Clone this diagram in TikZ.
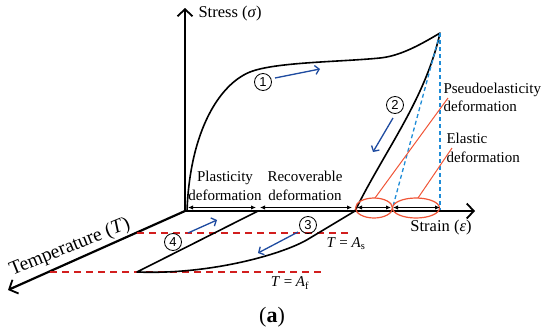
\documentclass[tikz,border=0pt]{standalone}
\usepackage{fontspec}
\setmainfont{Liberation Serif}
\setsansfont{Liberation Sans}
\usepackage{tikz}
\usepackage{xcolor}
\usetikzlibrary{arrows.meta, shapes.geometric}
\definecolor{moveblue}{RGB}{30,75,160}
\definecolor{guideblue}{RGB}{30,140,215}
\definecolor{limitred}{RGB}{210,30,30}
\definecolor{markorange}{RGB}{240,85,55}

\begin{document}
\begin{tikzpicture}[
    x=1pt, y=-1pt,
    font=\fontsize{15}{18.5}\selectfont,
    axis/.style={line width=2.2pt, -{Straight Barb[length=7pt, width=15pt, line width=1.8pt]}},
    curve/.style={line width=1.6pt, line join=round},
    dim/.style={line width=1pt, {Latex[length=5pt, width=4.5pt]}-{Latex[length=5pt, width=4.5pt]}},
    move/.style={moveblue, line width=1.3pt, -{Straight Barb[length=4pt, width=9pt]}},
    tline/.style={limitred, line width=1.5pt, dash pattern=on 7pt off 5pt},
    guide/.style={guideblue, line width=1.3pt, dash pattern=on 4pt off 3pt},
    ring/.style={ellipse, draw=markorange, line width=1.2pt, minimum height=20pt, inner sep=0pt},
    callout/.style={markorange, line width=1pt},
    num/.style={circle, draw, line width=0.8pt, minimum size=17pt, inner sep=0pt,
                font=\sffamily\fontsize{13}{13}\selectfont},
    axlab/.style={font=\fontsize{16.5}{20}\selectfont},
    lab/.style={align=left, anchor=west},
  ]
  \useasboundingbox (0,0) rectangle (550,335);
  % key points
  \coordinate (O)    at (185,211);
  \coordinate (peak) at (440,33);
  \coordinate (knee) at (355,211);
  \coordinate (lo)   at (137,272);
  \coordinate (up)   at (258,211);
  % axes
  \draw[axis] (O) -- (185,8);
  \draw[axis] (O) -- (475,211);
  \draw[axis] (O) -- (8,290);
  \node[axlab, anchor=west] (stress) at (195,14) {Stress (\textit{σ})};
  \node[axlab] (strain) at (441,228) {Strain (\textit{ε})};
  \node[font=\fontsize{19.5}{23}\selectfont, rotate=22, anchor=base west]
    (temp) at (9,277) {Temperature (\textit{T})};
  % transformation temperatures
  \draw[tline] (137,233) -- (352,233);
  \draw[tline] (50,272) -- (325,272);
  \node (As) at (346,244) {\textit{T} = \textit{A}\textsubscript{s}};
  \node (Af) at (290,283) {\textit{T} = \textit{A}\textsubscript{f}};
  % loading and unloading path
  \draw[curve] (187,211) .. controls (190,130) and (220,84) .. (250,72)
    .. controls (275,62) and (340,62) .. (380,58)
    .. controls (400,56) and (420,45) .. (peak)
    .. controls (425,100) and (385,150) .. (knee)
    -- (310,238) .. controls (285,254) and (210,275) .. (lo) -- (up);
  % elastic part
  \draw[guide] (peak) -- (440,210);
  \draw[guide] (peak) -- (392,210);
  \node[ring, minimum width=37pt] (e1) at (374,208) {};
  \node[ring, minimum width=47pt] (e2) at (416,208) {};
  % strain parts
  \draw[dim] (188,207.5) -- (256,207.5);
  \draw[dim] (260,207.5) -- (352,207.5);
  \draw[dim] (357,207.5) -- (391,207.5);
  \draw[dim] (393,207.5) -- (440,207.5);
  \node[align=center] (plast) at (225,186) {Plasticity\\deformation};
  \node[align=center] (recov) at (305,186) {Recoverable\\deformation};
  \draw[callout] (375,198) -- (448,98);
  \draw[callout] (418,198) -- (452,148);
  \node[lab] (pse) at (440,97.5) {Pseudoelasticity\\deformation};
  \node[lab] (ela) at (443,148) {Elastic\\deformation};
  % steps
  \node[num] (n1) at (263,82) {1};
  \node[num] (n2) at (395,105) {2};
  \node[num] (n3) at (308,225) {3};
  \node[num] (n4) at (173,242) {4};
  \draw[move] (275,78) -- (320,69);
  \draw[move] (393,118) -- (373,152);
  \draw[move] (298,232) -- (258,253);
  \draw[move] (188,233) -- (217,220);
  \node[font=\fontsize{22}{26}\selectfont] (cap) at (272,317) {(\textbf{a})};
\end{tikzpicture}
\end{document}
